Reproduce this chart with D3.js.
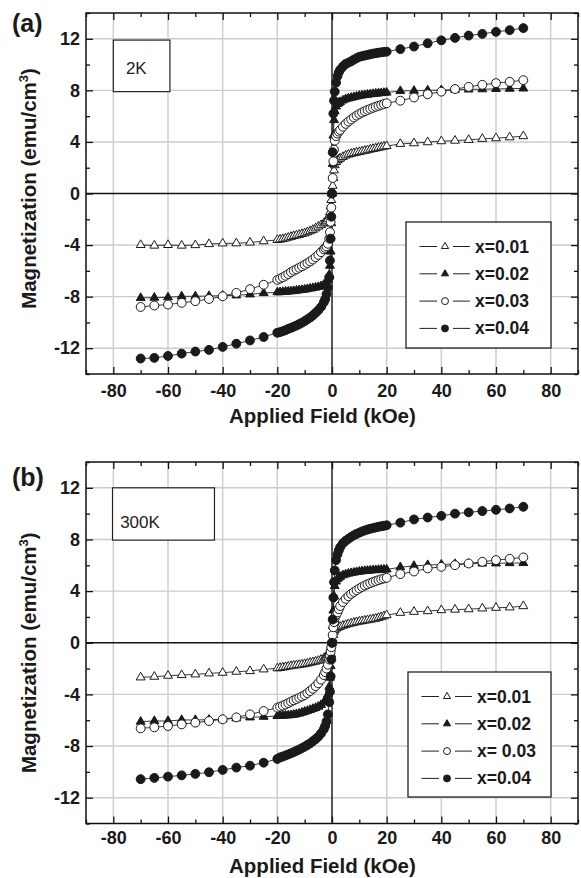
<!DOCTYPE html>
<html>
<head>
<meta charset="utf-8">
<script src="https://cdn.jsdelivr.net/npm/d3@7"></script>
<style>
  body { margin: 0; background: #fff; }
  svg { display: block; font-family: "Liberation Sans", Arial, sans-serif; }
</style>
</head>
<body>
<div id="chart"></div>
<script>
// Applied field (kOe), same sweep for every curve
const fieldValues = [
  -70, -65, -60, -55, -50, -45, -40, -35, -30, -25, -20,
  -19, -18, -17, -16, -15, -14, -13, -12, -11, -10, -9, -8, -7, -6, -5, -4, -3, -2.5, -2, -1.5, -1, -0.75, -0.5, -0.25,
  0, 0.25, 0.5, 0.75, 1, 1.5, 2, 2.5, 3, 4, 5, 6, 7, 8, 9, 10, 11, 12, 13, 14, 15, 16, 17, 18, 19, 20,
  25, 30, 35, 40, 45, 50, 55, 60, 65, 70
];

// Magnetization (emu/cm3) at 2K
const m2K_x001 = [
  -3.99, -4.04, -3.99, -4.04, -4.0, -3.92, -3.87, -3.86, -3.8, -3.7, -3.6,
  -3.57, -3.53, -3.48, -3.42, -3.36, -3.3, -3.25, -3.2, -3.14, -3.08, -3.0, -2.92, -2.82, -2.7, -2.57, -2.45, -2.32, -2.25, -2.15, -2.0, -1.7, -1.45, -1.0, -0.5,
  0, 0.6, 1.2, 1.8, 2.2, 2.45, 2.58, 2.66, 2.72, 2.84, 2.95, 3.02, 3.08, 3.13, 3.18, 3.22, 3.27, 3.32, 3.36, 3.41, 3.46, 3.5, 3.55, 3.59, 3.64, 3.68,
  3.85, 3.9, 3.98, 4.06, 4.1, 4.16, 4.24, 4.29, 4.36, 4.45
];
const m2K_x002 = [
  -8.1, -8.08, -8.05, -7.98, -7.97, -7.95, -7.92, -7.9, -7.82, -7.72, -7.66,
  -7.65, -7.63, -7.61, -7.6, -7.58, -7.56, -7.53, -7.5, -7.48, -7.45, -7.41, -7.37, -7.33, -7.29, -7.25, -7.18, -7.08, -7.0, -6.92, -6.7, -6.3, -5.6, -4.5, -2.3,
  0, 2.3, 4.5, 5.7, 6.4, 6.75, 6.94, 7.03, 7.1, 7.22, 7.32, 7.38, 7.43, 7.48, 7.53, 7.58, 7.61, 7.64, 7.67, 7.7, 7.72, 7.75, 7.77, 7.79, 7.81, 7.83,
  7.95, 7.97, 8.0, 8.02, 8.05, 8.07, 8.09, 8.11, 8.13, 8.15
];
const m2K_x003 = [
  -8.8, -8.69, -8.61, -8.48, -8.35, -8.18, -7.97, -7.71, -7.42, -7.08, -6.7,
  -6.6, -6.5, -6.38, -6.25, -6.1, -5.98, -5.88, -5.76, -5.65, -5.53, -5.4, -5.27, -5.12, -4.95, -4.76, -4.55, -4.33, -4.22, -4.1, -3.9, -3.5, -3.0, -2.2, -1.1,
  0, 1.2, 2.5, 3.4, 4.1, 4.45, 4.65, 4.8, 4.93, 5.18, 5.4, 5.58, 5.74, 5.9, 6.04, 6.17, 6.28, 6.38, 6.48, 6.57, 6.65, 6.73, 6.8, 6.87, 6.94, 7.0,
  7.2, 7.45, 7.7, 7.9, 8.1, 8.27, 8.43, 8.56, 8.66, 8.79
];
const m2K_x004 = [
  -12.8, -12.75, -12.6, -12.42, -12.26, -12.13, -11.9, -11.65, -11.4, -11.13, -10.8,
  -10.75, -10.68, -10.6, -10.5, -10.42, -10.33, -10.24, -10.13, -10.02, -9.9, -9.76, -9.62, -9.46, -9.26, -9.05, -8.8, -8.45, -8.2, -7.8, -7.3, -6.5, -5.2, -3.5, -1.8,
  0, 3.2, 6.2, 7.2, 7.9, 8.6, 9.1, 9.4, 9.6, 9.85, 10.05, 10.15, 10.25, 10.38, 10.5, 10.6, 10.65, 10.7, 10.75, 10.8, 10.85, 10.88, 10.92, 10.95, 10.98, 11.0,
  11.2, 11.4, 11.65, 11.88, 12.07, 12.25, 12.38, 12.54, 12.67, 12.83
];

// Magnetization (emu/cm3) at 300K
const m300K_x001 = [
  -2.68, -2.63, -2.55, -2.5, -2.45, -2.37, -2.32, -2.24, -2.19, -2.06, -1.98,
  -1.95, -1.91, -1.88, -1.84, -1.8, -1.77, -1.74, -1.71, -1.68, -1.65, -1.6, -1.55, -1.5, -1.45, -1.39, -1.31, -1.22, -1.15, -1.08, -0.95, -0.75, -0.6, -0.4, -0.2,
  0, 0.3, 0.6, 0.85, 1.0, 1.1, 1.17, 1.21, 1.24, 1.32, 1.39, 1.45, 1.5, 1.55, 1.6, 1.64, 1.68, 1.72, 1.75, 1.79, 1.83, 1.87, 1.93, 1.99, 2.06, 2.14,
  2.32, 2.4, 2.45, 2.53, 2.57, 2.6, 2.66, 2.71, 2.74, 2.84
];
const m300K_x002 = [
  -6.11, -6.06, -6.06, -5.98, -5.98, -5.96, -5.93, -5.85, -5.78, -5.73, -5.67,
  -5.66, -5.65, -5.63, -5.62, -5.6, -5.57, -5.53, -5.48, -5.41, -5.34, -5.27, -5.2, -5.12, -5.04, -4.95, -4.82, -4.62, -4.48, -4.3, -4.0, -3.4, -2.7, -1.8, -0.9,
  0, 1.3, 2.5, 3.6, 4.4, 4.75, 4.95, 5.05, 5.12, 5.23, 5.3, 5.36, 5.4, 5.44, 5.48, 5.51, 5.54, 5.56, 5.58, 5.6, 5.62, 5.63, 5.65, 5.66, 5.67, 5.68,
  5.85, 5.95, 6.02, 6.06, 6.1, 6.12, 6.14, 6.15, 6.17, 6.18
];
const m300K_x003 = [
  -6.63, -6.55, -6.45, -6.32, -6.19, -6.06, -5.93, -5.78, -5.55, -5.29, -5.03,
  -4.95, -4.87, -4.78, -4.67, -4.56, -4.46, -4.36, -4.26, -4.16, -4.05, -3.9, -3.74, -3.56, -3.36, -3.14, -2.85, -2.5, -2.28, -2.0, -1.7, -1.3, -1.0, -0.7, -0.35,
  0, 0.6, 1.2, 1.6, 1.9, 2.15, 2.35, 2.6, 2.85, 3.15, 3.4, 3.6, 3.78, 3.93, 4.07, 4.2, 4.32, 4.43, 4.53, 4.62, 4.7, 4.78, 4.85, 4.92, 4.98, 5.03,
  5.32, 5.52, 5.76, 5.88, 6.01, 6.14, 6.27, 6.4, 6.5, 6.61
];
const m300K_x004 = [
  -10.57, -10.47, -10.37, -10.27, -10.16, -10.03, -9.85, -9.67, -9.52, -9.29, -9.0,
  -8.88, -8.81, -8.73, -8.65, -8.56, -8.47, -8.37, -8.27, -8.16, -8.05, -7.92, -7.79, -7.63, -7.46, -7.27, -7.02, -6.7, -6.45, -6.1, -5.55, -4.6, -3.8, -2.6, -1.3,
  0, 1.8, 3.5, 4.7, 5.6, 6.4, 6.85, 7.15, 7.4, 7.7, 7.9, 8.05, 8.2, 8.32, 8.43, 8.53, 8.62, 8.7, 8.77, 8.83, 8.88, 8.93, 8.98, 9.02, 9.06, 9.1,
  9.3, 9.55, 9.7, 9.83, 10.0, 10.1, 10.2, 10.3, 10.4, 10.53
];

const legendLabels2K = ["x=0.01", "x=0.02", "x=0.03", "x=0.04"];
const legendLabels300K = ["x=0.01", "x=0.02", "x= 0.03", "x=0.04"];
const markerShapes = ["triangle", "triangle", "circle", "circle"];
const markerFilled = [false, true, false, true];

const xTicks = [-80, -60, -40, -20, 0, 20, 40, 60, 80];
const xMinorTicks = [-90, -70, -50, -30, -10, 10, 30, 50, 70, 90];
const yTicks = [-12, -8, -4, 0, 4, 8, 12];
const yMinorTicks = [-14, -10, -6, -2, 2, 6, 10, 14];

const width = 581;
const height = 878;
const margin = {left: 86, right: 3};
const innerWidth = width - margin.left - margin.right;
const fontFamily = "'Liberation Sans', Arial, sans-serif";

const panels = [
  {
    tag: "(a)", tagY: 32, temp: "2K", top: 13, bottom: 374,
    series: [m2K_x001, m2K_x002, m2K_x003, m2K_x004], labels: legendLabels2K,
    tempBox: {x0: -80, x1: -59.3, y0: 11.9, y1: 7.9, tx: -75.4, ty: 9.25},
    legendBox: {x: 320, y: 209, w: 145, h: 126},
    tickPad: 10, titleOffset: 49, yTitleShift: -5
  },
  {
    tag: "(b)", tagY: 486, temp: "300K", top: 462, bottom: 823.5,
    series: [m300K_x001, m300K_x002, m300K_x003, m300K_x004], labels: legendLabels300K,
    tempBox: {x0: -80.3, x1: -43, y0: 12, y1: 7.95, tx: -77.5, ty: 8.9},
    legendBox: {x: 322, y: 210, w: 143, h: 125},
    tickPad: 8, titleOffset: 49, yTitleShift: 10
  }
];

const svg = d3.select("#chart")
  .append("svg")
    .attr("width", width)
    .attr("height", height)
    .attr("viewBox", `0 0 ${width} ${height}`);

const xScale = d3.scaleLinear()
  .domain([-90, 90])
  .range([0, innerWidth]);

const symbolFor = (shape, big) => d3.symbol()
  .type(shape === "triangle" ? d3.symbolTriangle : d3.symbolCircle)
  .size(shape === "triangle" ? (big ? 34 : 22) : (big ? 62 : 38));

const styleAxis = (axisG, labelled) => {
  axisG.select(".domain").remove();
  axisG.selectAll("line")
    .attr("stroke", "#111")
    .attr("stroke-width", 1.3);
  if (!labelled) {
    axisG.selectAll("text").remove();
    return;
  }
  axisG.selectAll("text")
    .attr("fill", "#1a1a1a")
    .attr("font-family", fontFamily)
    .attr("font-size", 18)
    .attr("font-weight", "bold");
};

const plainNumber = d => String(d);

const drawPanel = (p) => {
  const innerHeight = p.bottom - p.top;
  const yScale = d3.scaleLinear()
    .domain([-14, 14])
    .range([innerHeight, 0]);

  const g = svg.append("g")
    .attr("transform", `translate(${margin.left}, ${p.top})`);

  // Grid
  g.append("g")
    .selectAll("line")
    .data(xTicks.filter(d => d !== 0))
    .join("line")
      .attr("x1", d => xScale(d))
      .attr("x2", d => xScale(d))
      .attr("y1", 0)
      .attr("y2", innerHeight)
      .attr("stroke", "#cccccc")
      .attr("stroke-width", 1.4);
  g.append("g")
    .selectAll("line")
    .data(yTicks.filter(d => d !== 0))
    .join("line")
      .attr("x1", 0)
      .attr("x2", innerWidth)
      .attr("y1", d => yScale(d))
      .attr("y2", d => yScale(d))
      .attr("stroke", "#cccccc")
      .attr("stroke-width", 1.4);

  // Zero lines
  g.append("line")
    .attr("x1", xScale(0)).attr("x2", xScale(0))
    .attr("y1", 0).attr("y2", innerHeight)
    .attr("stroke", "#111").attr("stroke-width", 1.4);
  g.append("line")
    .attr("x1", 0).attr("x2", innerWidth)
    .attr("y1", yScale(0)).attr("y2", yScale(0))
    .attr("stroke", "#111").attr("stroke-width", 1.4);

  // Axes: ticks on all four sides, pointing inward
  const bottomAxis = g.append("g")
    .attr("transform", `translate(0, ${innerHeight})`)
    .call(d3.axisBottom(xScale).tickValues(xTicks).tickFormat(plainNumber)
      .tickSizeInner(-7).tickSizeOuter(0).tickPadding(p.tickPad));
  styleAxis(bottomAxis, true);
  styleAxis(g.append("g")
    .attr("transform", `translate(0, ${innerHeight})`)
    .call(d3.axisBottom(xScale).tickValues(xMinorTicks).tickSize(-4)), false);
  styleAxis(g.append("g")
    .call(d3.axisTop(xScale).tickValues(xTicks).tickSize(-7)), false);
  styleAxis(g.append("g")
    .call(d3.axisTop(xScale).tickValues(xMinorTicks).tickSize(-4)), false);

  const leftAxis = g.append("g")
    .call(d3.axisLeft(yScale).tickValues(yTicks).tickFormat(plainNumber)
      .tickSizeInner(-7).tickSizeOuter(0).tickPadding(6));
  styleAxis(leftAxis, true);
  styleAxis(g.append("g")
    .call(d3.axisLeft(yScale).tickValues(yMinorTicks).tickSize(-4)), false);
  styleAxis(g.append("g")
    .attr("transform", `translate(${innerWidth}, 0)`)
    .call(d3.axisRight(yScale).tickValues(yTicks).tickSize(-7)), false);
  styleAxis(g.append("g")
    .attr("transform", `translate(${innerWidth}, 0)`)
    .call(d3.axisRight(yScale).tickValues(yMinorTicks).tickSize(-4)), false);

  // Frame
  g.append("rect")
    .attr("width", innerWidth)
    .attr("height", innerHeight)
    .attr("fill", "none")
    .attr("stroke", "#111")
    .attr("stroke-width", 1.5);

  // Temperature box
  const tb = p.tempBox;
  g.append("rect")
    .attr("x", xScale(tb.x0))
    .attr("y", yScale(tb.y0))
    .attr("width", xScale(tb.x1) - xScale(tb.x0))
    .attr("height", yScale(tb.y1) - yScale(tb.y0))
    .attr("fill", "#fff")
    .attr("stroke", "#222")
    .attr("stroke-width", 1.2);
  g.append("text")
    .attr("x", xScale(tb.tx))
    .attr("y", yScale(tb.ty))
    .attr("text-anchor", "start")
    .attr("font-family", fontFamily)
    .attr("font-size", 17)
    .attr("fill", "#222")
    .text(p.temp);

  // Curves
  const lineGenerator = d3.line()
    .x((d, i) => xScale(fieldValues[i]))
    .y(d => yScale(d));

  p.series.forEach((values, k) => {
    g.append("path")
      .attr("d", lineGenerator(values))
      .attr("fill", "none")
      .attr("stroke", "#222")
      .attr("stroke-width", 0.9);
  });
  p.series.forEach((values, k) => {
    g.append("g")
      .selectAll("path")
      .data(values)
      .join("path")
        .attr("transform", (d, i) => `translate(${xScale(fieldValues[i])}, ${yScale(d)})`)
        .attr("d", symbolFor(markerShapes[k], true)())
        .attr("fill", markerFilled[k] ? "#1a1a1a" : "#fff")
        .attr("stroke", "#1a1a1a")
        .attr("stroke-width", 1);
  });

  // Legend
  const lb = p.legendBox;
  const legend = g.append("g")
    .attr("transform", `translate(${lb.x}, ${lb.y})`);
  legend.append("rect")
    .attr("width", lb.w)
    .attr("height", lb.h)
    .attr("fill", "#fff")
    .attr("stroke", "#222")
    .attr("stroke-width", 1.3);
  const rows = legend.selectAll(".legend-row")
    .data(p.labels)
    .join("g")
      .attr("class", "legend-row")
      .attr("transform", (d, i) => `translate(0, ${24.5 + i * 27.3})`);
  rows.append("line")
    .attr("x1", 13.5).attr("x2", 31)
    .attr("stroke", "#222").attr("stroke-width", 1);
  rows.append("line")
    .attr("x1", 47).attr("x2", 64)
    .attr("stroke", "#222").attr("stroke-width", 1);
  rows.append("path")
    .attr("transform", "translate(39, 0)")
    .attr("d", (d, i) => symbolFor(markerShapes[i], false)())
    .attr("fill", (d, i) => markerFilled[i] ? "#1a1a1a" : "#fff")
    .attr("stroke", "#1a1a1a")
    .attr("stroke-width", 1);
  rows.append("text")
    .attr("x", 69)
    .attr("y", 6)
    .attr("text-anchor", "start")
    .attr("font-family", fontFamily)
    .attr("font-size", 17.5)
    .attr("font-weight", "bold")
    .attr("fill", "#1a1a1a")
    .style("white-space", "pre")
    .text(d => d);

  // Axis titles
  g.append("text")
    .attr("x", xScale(-3.5))
    .attr("y", innerHeight + p.titleOffset)
    .attr("text-anchor", "middle")
    .attr("font-family", fontFamily)
    .attr("font-size", 20.5)
    .attr("font-weight", "bold")
    .attr("fill", "#1a1a1a")
    .text("Applied Field (kOe)");

  const yTitle = g.append("text")
    .attr("transform", `translate(${36 - margin.left}, ${innerHeight / 2 + p.yTitleShift}) rotate(-90)`)
    .attr("text-anchor", "middle")
    .attr("font-family", fontFamily)
    .attr("font-size", 20.5)
    .attr("font-weight", "bold")
    .attr("fill", "#1a1a1a");
  yTitle.append("tspan").text("Magnetization (emu/cm");
  yTitle.append("tspan").attr("font-size", 13).attr("dy", -8).text("3");
  yTitle.append("tspan").attr("dy", 8).text(")");

  // Panel tag
  svg.append("text")
    .attr("x", 12)
    .attr("y", p.tagY)
    .attr("text-anchor", "start")
    .attr("font-family", fontFamily)
    .attr("font-size", 25)
    .attr("font-weight", "bold")
    .attr("fill", "#1a1a1a")
    .text(p.tag);
};

panels.forEach(drawPanel);
</script>
</body>
</html>
